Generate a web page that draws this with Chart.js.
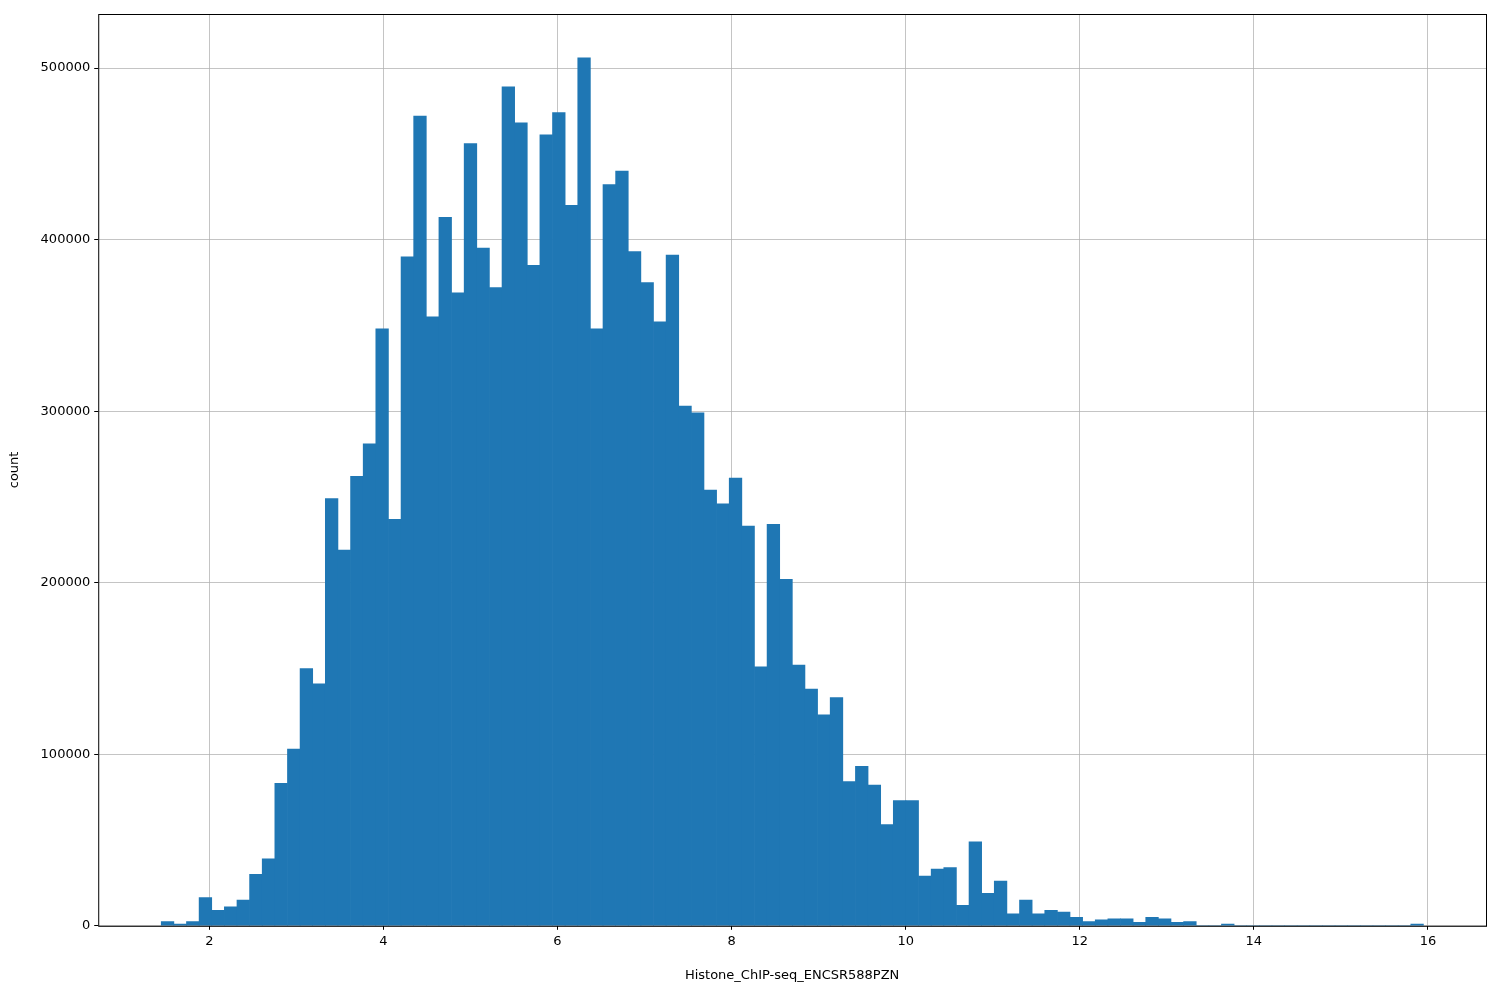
<!DOCTYPE html>
<html><head><meta charset="utf-8">
<script src="https://cdn.jsdelivr.net/npm/chart.js@4"></script>
<style>body{margin:0;background:#fff}#w{width:1500px;height:1000px}</style>
</head><body><div id="w"><canvas id="c"></canvas></div>
<script>
const binStart = 1.448;
const binWidth = 0.145;
const counts = [2500,1000,2500,16500,9000,11000,15000,30000,39000,83000,
103000,150000,141000,249000,219000,262000,281000,348000,237000,390000,
472000,355000,413000,369000,456000,395000,372000,489000,468000,385000,
461000,474000,420000,506000,348000,432000,440000,393000,375000,352000,
391000,303000,299000,254000,246000,261000,233000,151000,234000,202000,
152000,138000,123000,133000,84000,93000,82000,59000,73000,73000,
29000,33000,34000,12000,49000,19000,26000,7000,15000,7000,
9000,8000,5000,2500,3500,4000,4000,2000,5000,4000,
2000,2500,0,0,1000,0,0,0,0,0,
0,0,0,0,0,0,0,0,0,1000];
const xTicks = [2,4,6,8,10,12,14,16];
const yTicks = [0,100000,200000,300000,400000,500000];
const pts = counts.map((v,i)=>({x: binStart + (i+0.5)*binWidth, y: v}));
const frame = {id:'frame', afterDraw(ch){const a=ch.chartArea,c=ch.ctx;c.save();c.strokeStyle='#000';c.lineWidth=1;c.strokeRect(a.left+0.5,a.top+0.5,a.right-a.left,a.bottom-a.top);c.restore();}};
new Chart(document.getElementById('c'),{
 type:'bar',
 data:{datasets:[{data:pts,backgroundColor:'#1f77b4',barPercentage:1,categoryPercentage:1,borderWidth:0}]},
 options:{responsive:true,maintainAspectRatio:false,animation:false,
  layout:{padding:{left:3,right:14,top:14,bottom:13}},
  plugins:{legend:{display:false},tooltip:{enabled:false}},
  scales:{
   x:{type:'linear',min:0.724,max:16.667,z:1,offset:false,
      afterBuildTicks(s){s.ticks=xTicks.map(v=>({value:v}));},
      grid:{offset:false,color:'rgba(176,176,176,0.75)',drawTicks:true,tickLength:4,tickColor:'#000'},
      border:{display:false},
      ticks:{color:'#000',font:{family:'DejaVu Sans',size:13},padding:4,maxRotation:0},
      title:{display:true,text:'Histone_ChIP-seq_ENCSR588PZN',color:'#000',font:{family:'DejaVu Sans',size:13},padding:{top:14}}},
   y:{min:0,max:531500,z:1,
      afterBuildTicks(s){s.ticks=yTicks.map(v=>({value:v}));},
      grid:{color:'rgba(176,176,176,0.75)',tickLength:4,tickColor:'#000'},
      border:{display:false},
      ticks:{color:'#000',font:{family:'DejaVu Sans',size:13},padding:4,callback:v=>String(v)},
      title:{display:true,text:'count',color:'#000',font:{family:'DejaVu Sans',size:13},padding:{bottom:14}}}
  }},
 plugins:[frame]
});
</script></body></html>
